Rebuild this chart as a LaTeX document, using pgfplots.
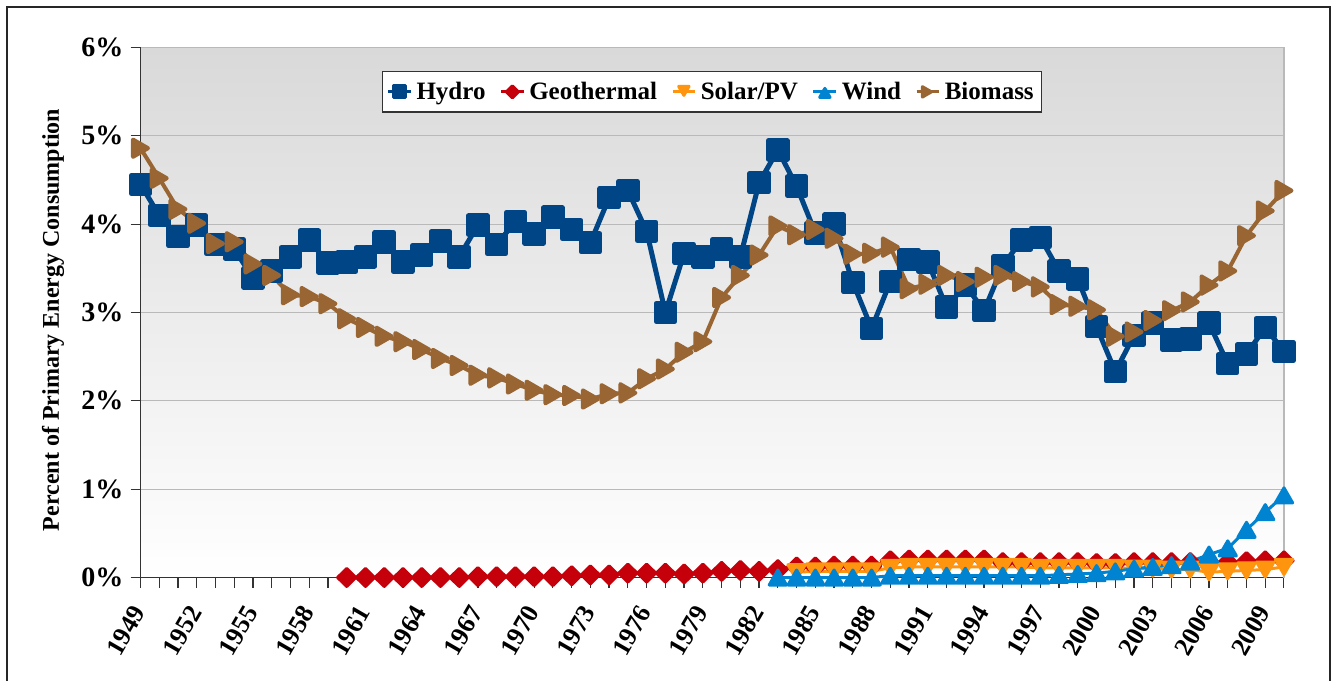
\documentclass[border=0pt]{standalone}
\usepackage{fontspec}
\setmainfont{Liberation Serif}
\usepackage{pgfplots}
\usepackage{pgfplotstable}
\pgfplotsset{compat=1.18}
\definecolor{hydro}{RGB}{0,69,134}
\definecolor{geo}{RGB}{197,0,11}
\definecolor{solar}{RGB}{255,149,14}
\definecolor{wind}{RGB}{0,132,209}
\definecolor{biomass}{RGB}{153,102,51}
\definecolor{bgtop}{RGB}{217,217,217}
\definecolor{gridc}{RGB}{185,185,185}

\pgfplotstableread{
year val
1949 4.45
1950 4.10
1951 3.86
1952 3.99
1953 3.77
1954 3.72
1955 3.39
1956 3.47
1957 3.63
1958 3.82
1959 3.56
1960 3.57
1961 3.63
1962 3.80
1963 3.57
1964 3.65
1965 3.81
1966 3.63
1967 3.99
1968 3.77
1969 4.03
1970 3.89
1971 4.08
1972 3.94
1973 3.79
1974 4.30
1975 4.38
1976 3.92
1977 3.00
1978 3.67
1979 3.63
1980 3.72
1981 3.63
1982 4.47
1983 4.84
1984 4.43
1985 3.90
1986 4.00
1987 3.34
1988 2.82
1989 3.35
1990 3.60
1991 3.57
1992 3.06
1993 3.31
1994 3.02
1995 3.53
1996 3.82
1997 3.85
1998 3.47
1999 3.38
2000 2.84
2001 2.33
2002 2.74
2003 2.88
2004 2.69
2005 2.70
2006 2.88
2007 2.42
2008 2.53
2009 2.83
2010 2.56
}\hydrotab

\pgfplotstableread{
year val
1960 0.00
1961 0.00
1962 0.00
1963 0.00
1964 0.00
1965 0.00
1966 0.00
1967 0.01
1968 0.01
1969 0.01
1970 0.01
1971 0.01
1972 0.02
1973 0.03
1974 0.03
1975 0.05
1976 0.05
1977 0.05
1978 0.04
1979 0.05
1980 0.07
1981 0.08
1982 0.07
1983 0.09
1984 0.12
1985 0.12
1986 0.13
1987 0.13
1988 0.13
1989 0.19
1990 0.20
1991 0.20
1992 0.20
1993 0.20
1994 0.20
1995 0.17
1996 0.17
1997 0.17
1998 0.17
1999 0.17
2000 0.16
2001 0.16
2002 0.17
2003 0.17
2004 0.17
2005 0.17
2006 0.17
2007 0.17
2008 0.18
2009 0.19
2010 0.19
}\geotab

\pgfplotstableread{
year val
1984 0.06
1985 0.07
1986 0.07
1987 0.07
1988 0.07
1989 0.11
1990 0.12
1991 0.12
1992 0.12
1993 0.12
1994 0.12
1995 0.12
1996 0.12
1997 0.11
1998 0.11
1999 0.11
2000 0.11
2001 0.11
2002 0.10
2003 0.10
2004 0.09
2005 0.09
2006 0.06
2007 0.07
2008 0.08
2009 0.09
2010 0.12
}\solartab

\pgfplotstableread{
year val
1983 0.00
1984 0.00
1985 0.00
1986 0.00
1987 0.00
1988 0.00
1989 0.02
1990 0.02
1991 0.02
1992 0.02
1993 0.02
1994 0.02
1995 0.02
1996 0.02
1997 0.02
1998 0.03
1999 0.04
2000 0.05
2001 0.07
2002 0.10
2003 0.12
2004 0.14
2005 0.18
2006 0.26
2007 0.33
2008 0.54
2009 0.74
2010 0.93
}\windtab

\pgfplotstableread{
year val
1949 4.86
1950 4.52
1951 4.17
1952 4.01
1953 3.78
1954 3.80
1955 3.55
1956 3.42
1957 3.20
1958 3.18
1959 3.10
1960 2.93
1961 2.83
1962 2.73
1963 2.67
1964 2.58
1965 2.48
1966 2.40
1967 2.29
1968 2.26
1969 2.19
1970 2.12
1971 2.07
1972 2.06
1973 2.02
1974 2.08
1975 2.09
1976 2.25
1977 2.36
1978 2.55
1979 2.67
1980 3.17
1981 3.42
1982 3.65
1983 3.98
1984 3.88
1985 3.94
1986 3.84
1987 3.66
1988 3.67
1989 3.74
1990 3.27
1991 3.32
1992 3.42
1993 3.35
1994 3.40
1995 3.42
1996 3.35
1997 3.29
1998 3.09
1999 3.07
2000 3.03
2001 2.73
2002 2.78
2003 2.91
2004 3.02
2005 3.12
2006 3.31
2007 3.47
2008 3.87
2009 4.15
2010 4.38
}\biotab

\begin{document}
\begin{tikzpicture}[font=\fontsize{12}{14}\selectfont\bfseries]
\useasboundingbox (-70.25pt,-51.75pt) rectangle (597.25pt,288.75pt);
\begin{axis}[
  at={(0,0)}, anchor=south west,
  scale only axis, width=571.75pt, height=265pt,
  xmin=1949, xmax=2010, ymin=0, ymax=6,
  clip=false,
  axis background/.style={shade, top color=bgtop, bottom color=white},
  axis lines*=left,
  axis line style={-, black!80, line width=0.6pt},
  ymajorgrids, grid style={gridc, line width=0.6pt},
  tick align=outside,
  major tick length=5pt, minor tick length=5pt,
  tick style={black!80, line width=0.6pt},
  xtick={1949,1952,...,2009},
  minor xtick={1949,...,2010},
  xticklabels={1949,1952,1955,1958,1961,1964,1967,1970,1973,1976,1979,1982,1985,1988,1991,1994,1997,2000,2003,2006,2009},
  xticklabel style={rotate=60, anchor=east, xshift=2pt, font=\fontsize{13}{15}\selectfont\bfseries},
  xticklabel shift=9pt,
  ytick={0,1,...,6},
  yticklabels={0\%,1\%,2\%,3\%,4\%,5\%,6\%},
  yticklabel style={font=\fontsize{14}{16}\selectfont\bfseries},
  ylabel={Percent of Primary Energy Consumption},
  ylabel style={at={(axis description cs:-0.0765,0.486)}, anchor=center, font=\fontsize{12}{14}\selectfont\bfseries},
  legend columns=-1,
  legend style={at={(axis description cs:0.5,1)}, anchor=north, yshift=-11.8pt,
    draw=black!80, line width=0.6pt, fill=white, font=\fontsize{12.5}{14}\selectfont\bfseries,
    inner xsep=2pt, inner ysep=3pt,
    /tikz/every even column/.append style={column sep=5pt}},
  legend image code/.code={\draw[mark repeat=2, mark phase=2, line width=1.5pt, mark size=3pt] plot coordinates {(0cm,0cm) (0.2cm,0cm) (0.4cm,0cm)};},
]
\addplot[color=hydro, line width=2.5pt, line join=round, mark=square*, mark size=4.6pt] table[x=year, y=val] {\hydrotab};
\addlegendentry{Hydro}
\addplot[color=geo, line width=1.5pt, line join=round, mark=diamond*, mark size=4.5pt, mark options={xscale=1.35}] table[x=year, y=val] {\geotab};
\addlegendentry{Geothermal}
\addplot[color=solar, line width=1.5pt, line join=round, mark=triangle*, mark size=5pt, mark options={yshift=1.25pt, rotate=180}] table[x=year, y=val] {\solartab};
\addlegendentry{Solar/PV}
\addplot[color=wind, line width=1.5pt, line join=round, mark=triangle*, mark size=5pt, mark options={yshift=-1.25pt}] table[x=year, y=val] {\windtab};
\addlegendentry{Wind}
\addplot[color=biomass, line width=2pt, line join=round, mark=triangle*, mark size=5pt, mark options={xshift=-1.25pt, rotate=-90}] table[x=year, y=val] {\biotab};
\addlegendentry{Biomass}
\draw[gridc, line width=0.6pt] (rel axis cs:1,0) -- (rel axis cs:1,1);
\end{axis}
\draw[black!85, line width=0.6pt] (-66.75pt,-51.75pt) -- (-66.75pt,285.25pt) -- (594.75pt,285.25pt) -- (594.75pt,-51.75pt);
\end{tikzpicture}
\end{document}
